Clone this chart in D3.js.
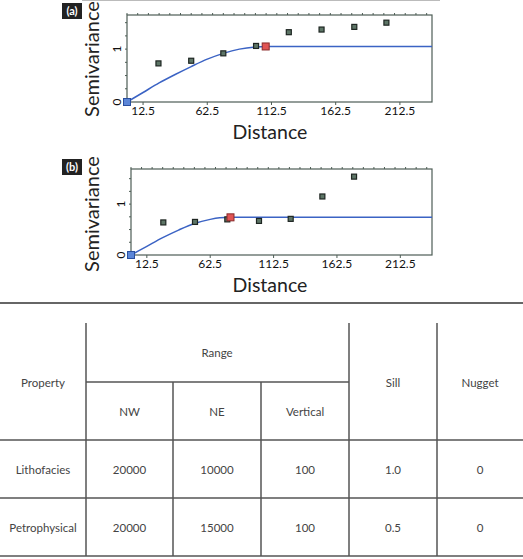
<!DOCTYPE html>
<html>
<head>
<meta charset="utf-8">
<script src="https://cdn.jsdelivr.net/npm/d3@7"></script>
<style>
  body { margin: 0; background: #fff; }
  svg { display: block; font-family: Lato, "Open Sans", sans-serif; }
</style>
</head>
<body>
<svg id="chart" width="523" height="559"></svg>
<script>
// panel (a): lithofacies variogram
const lagA = [24.5, 50, 75, 100.5, 126, 151.5, 177, 202];
const gammaA = [0.73, 0.78, 0.92, 1.06, 1.32, 1.37, 1.42, 1.50];
const modelDistA = [0, 12.5, 25, 37.5, 50, 62.5, 75, 87.5, 100, 108, 237.5];
const modelGammaA = [0, 0.18, 0.36, 0.52, 0.67, 0.81, 0.92, 1.0, 1.04, 1.05, 1.05];
const rangeA = [108, 1.05];

// panel (b): petrophysical variogram
const lagB = [25.5, 50.5, 76, 101, 126, 151, 176];
const gammaB = [0.64, 0.65, 0.70, 0.67, 0.71, 1.15, 1.54];
const modelDistB = [0, 12.5, 25, 37.5, 50, 62.5, 70, 78, 237.5];
const modelGammaB = [0, 0.17, 0.34, 0.49, 0.62, 0.70, 0.73, 0.74, 0.74];
const rangeB = [78.5, 0.74];

const xTicks = [12.5, 62.5, 112.5, 162.5, 212.5];
const yTicks = [0, 1];

// table
const tableHead = ['Property', 'Range', 'Sill', 'Nugget'];
const subHead = ['NW', 'NE', 'Vertical'];
const properties = ['Lithofacies', 'Petrophysical'];
const nwRange = [20000, 20000];
const neRange = [10000, 15000];
const verticalRange = [100, 100];
const sill = ['1.0', '0.5'];
const nugget = [0, 0];

const svg = d3.select('#chart');

// thin border line at top of figure
svg.append('line').attr('x1', 82).attr('x2', 440).attr('y1', 0.5).attr('y2', 0.5)
  .attr('stroke', '#bbb').attr('stroke-width', 1);

function drawPanel(p) {
  const x = d3.scaleLinear().domain([0, 237.5]).range([p.left, p.right]);
  const y = d3.scaleLinear().domain([0, p.yMax]).range([p.bottom, p.top]);
  const g = svg.append('g');

  // tag box
  g.append('rect').attr('x', 62).attr('y', p.tagY).attr('width', 20).attr('height', 16)
    .attr('fill', '#222');
  g.append('text').attr('x', 72).attr('y', p.tagY + 12).attr('text-anchor', 'middle')
    .attr('fill', '#fff').attr('font-size', 11).attr('font-weight', 'bold').text(p.tag);

  // minor ticks on frame
  const minor = d3.range(0, 237.5, 50 / 6);
  g.selectAll('.tt').data(minor).join('line')
    .attr('x1', d => x(d)).attr('x2', d => x(d))
    .attr('y1', p.top).attr('y2', p.top - 2)
    .attr('stroke', '#4d5d55').attr('stroke-width', 1);
  g.selectAll('.bt').data(xTicks).join('line')
    .attr('x1', d => x(d)).attr('x2', d => x(d))
    .attr('y1', p.bottom).attr('y2', p.bottom + 3)
    .attr('stroke', '#4d5d55').attr('stroke-width', 1);
  g.selectAll('.lt').data(d3.range(0, p.yMax, 0.25)).join('line')
    .attr('x1', p.left).attr('x2', p.left - 2)
    .attr('y1', d => y(d)).attr('y2', d => y(d))
    .attr('stroke', '#4d5d55').attr('stroke-width', 1);

  // frame
  g.append('rect').attr('x', p.left).attr('y', p.top)
    .attr('width', p.right - p.left).attr('height', p.bottom - p.top)
    .attr('fill', 'none').attr('stroke', '#4d5d55').attr('stroke-width', 1.2);

  // tick labels
  g.selectAll('.xl').data(xTicks).join('text')
    .attr('x', d => x(d)).attr('y', p.bottom + 13)
    .attr('text-anchor', 'middle').attr('font-size', 12).attr('fill', '#111')
    .text(d => d);
  g.selectAll('.yl').data(yTicks).join('text')
    .attr('transform', d => `translate(${p.left - 6},${y(d)}) rotate(-90)`)
    .attr('text-anchor', 'middle').attr('font-size', 12).attr('fill', '#111')
    .text(d => d);

  // axis titles
  g.append('text').attr('x', 270).attr('y', p.bottom + 37)
    .attr('text-anchor', 'middle').attr('font-size', 19.5).attr('fill', '#222').text('Distance');
  g.append('text').attr('transform', `translate(${99},${p.labelY}) rotate(-90)`)
    .attr('text-anchor', 'middle').attr('font-size', 20).attr('fill', '#222').text('Semivariance');

  // model line
  const line = d3.line().x(d => x(d[0])).y(d => y(d[1])).curve(d3.curveMonotoneX);
  g.append('path').datum(d3.zip(p.modelDist, p.modelGamma))
    .attr('d', line).attr('fill', 'none').attr('stroke', '#3b63c4').attr('stroke-width', 1.5);

  // experimental points
  g.selectAll('.pt').data(d3.zip(p.lag, p.gamma)).join('rect')
    .attr('x', d => x(d[0]) - 2.5).attr('y', d => y(d[1]) - 2.5)
    .attr('width', 5).attr('height', 5)
    .attr('fill', '#5d7566').attr('stroke', '#1e2622').attr('stroke-width', 1.2);

  // range marker and origin marker
  g.append('rect').attr('x', x(p.range[0]) - 3.5).attr('y', y(p.range[1]) - 3.5)
    .attr('width', 7).attr('height', 7)
    .attr('fill', '#e05454').attr('stroke', '#8a2a2a').attr('stroke-width', 1);
  g.append('rect').attr('x', x(0) - 3.5).attr('y', y(0) - 3.5)
    .attr('width', 7).attr('height', 7)
    .attr('fill', '#5b86d8').attr('stroke', '#2a4f9e').attr('stroke-width', 1);
}

drawPanel({ tag: '(a)', tagY: 3, left: 127, right: 432, top: 15, bottom: 102, yMax: 1.645,
  labelY: 59, lag: lagA, gamma: gammaA, modelDist: modelDistA, modelGamma: modelGammaA, range: rangeA });
drawPanel({ tag: '(b)', tagY: 159, left: 131, right: 432, top: 169, bottom: 255, yMax: 1.69,
  labelY: 214, lag: lagB, gamma: gammaB, modelDist: modelDistB, modelGamma: modelGammaB, range: rangeB });

// separator
svg.append('line').attr('x1', 0).attr('x2', 523).attr('y1', 303).attr('y2', 303)
  .attr('stroke', '#666').attr('stroke-width', 2);

// table
const colX = [0, 86, 173, 261, 349, 437, 523];
const colC = d3.range(6).map(i => (colX[i] + colX[i + 1]) / 2);
const lineCol = '#555';
const t = svg.append('g').attr('font-size', 11.5).attr('fill', '#444');

[86, 349, 437].forEach(xx => t.append('line').attr('x1', xx).attr('x2', xx)
  .attr('y1', 323).attr('y2', 556).attr('stroke', lineCol).attr('stroke-width', 1.5));
[173, 261].forEach(xx => t.append('line').attr('x1', xx).attr('x2', xx)
  .attr('y1', 382).attr('y2', 556).attr('stroke', lineCol).attr('stroke-width', 1.5));
t.append('line').attr('x1', 86).attr('x2', 349).attr('y1', 382).attr('y2', 382)
  .attr('stroke', lineCol).attr('stroke-width', 1.5);
[440, 498, 556].forEach(yy => t.append('line').attr('x1', 0).attr('x2', 523)
  .attr('y1', yy).attr('y2', yy).attr('stroke', lineCol).attr('stroke-width', 1.5));

function cell(txt, cx, cy) {
  t.append('text').attr('x', cx).attr('y', cy + 4).attr('text-anchor', 'middle').text(txt);
}
cell(tableHead[0], colC[0], 383);
cell(tableHead[1], 217, 353);
cell(tableHead[2], colC[4], 383);
cell(tableHead[3], colC[5], 383);
subHead.forEach((s, i) => cell(s, colC[i + 1], 412));

const rowY = [470, 528];
properties.forEach((p, i) => {
  [p, nwRange[i], neRange[i], verticalRange[i], sill[i], nugget[i]]
    .forEach((v, j) => cell(v, colC[j], rowY[i]));
});
</script>
</body>
</html>
